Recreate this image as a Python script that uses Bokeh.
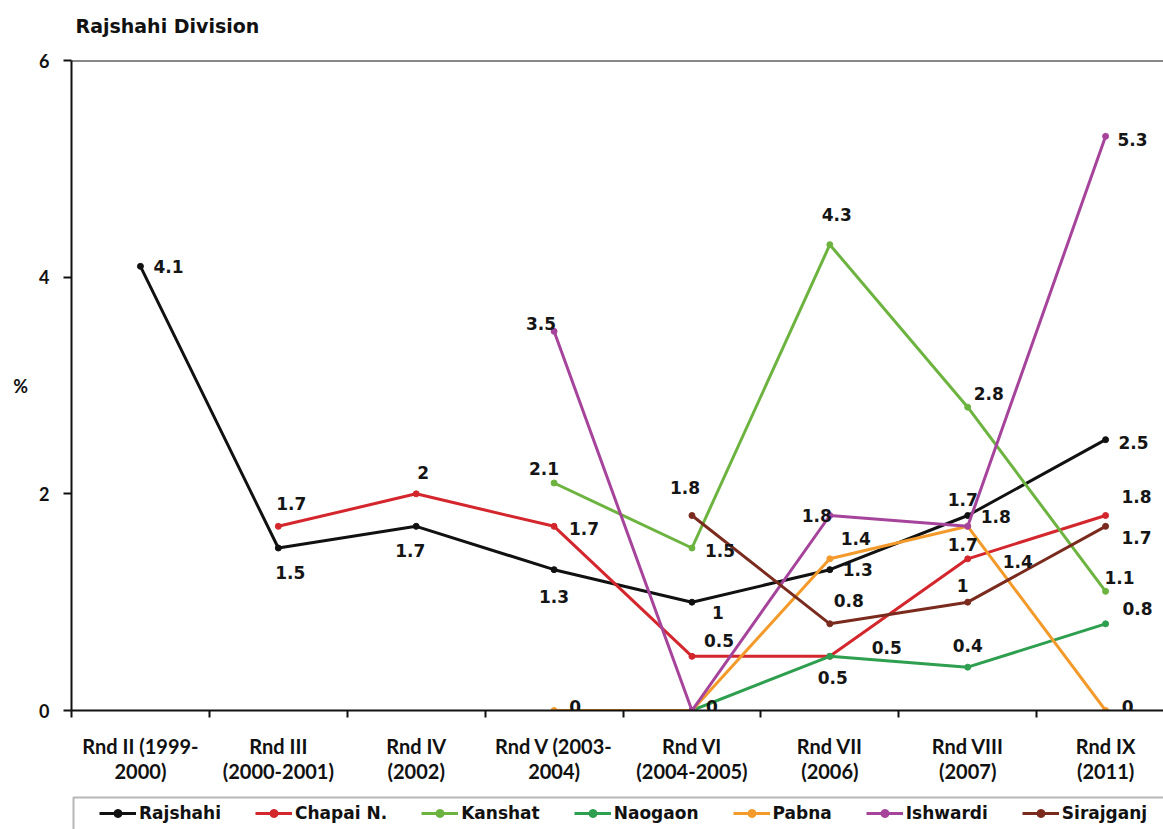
import math
from bokeh.plotting import figure
from bokeh.layouts import column
from bokeh.models import (Range1d, FixedTicker, Span, Legend, LegendItem,
                          ColumnDataSource, Label, BoxAnnotation)
from bokeh.core.properties import value
from bokeh.embed import file_html
from bokeh.resources import INLINE

NaN = float("nan")

# ---------------- data ----------------
rounds = ["Rnd II (1999-\n2000)", "Rnd III\n(2000-2001)", "Rnd IV\n(2002)",
          "Rnd V (2003-\n2004)", "Rnd VI\n(2004-2005)", "Rnd VII\n(2006)",
          "Rnd VIII\n(2007)", "Rnd IX\n(2011)"]

rajshahi  = [4.1, 1.5, 1.7, 1.3, 1.0, 1.3, 1.8, 2.5]
chapai    = [NaN, 1.7, 2.0, 1.7, 0.5, 0.5, 1.4, 1.8]
kanshat   = [NaN, NaN, NaN, 2.1, 1.5, 4.3, 2.8, 1.1]
naogaon   = [NaN, NaN, NaN, NaN, 0.0, 0.5, 0.4, 0.8]
pabna     = [NaN, NaN, NaN, 0.0, 0.0, 1.4, 1.7, 0.0]
ishwardi  = [NaN, NaN, NaN, 3.5, 0.0, 1.8, 1.7, 5.3]
sirajganj = [NaN, NaN, NaN, NaN, 1.8, 0.8, 1.0, 1.7]

series_names = ["Rajshahi", "Chapai N.", "Kanshat", "Naogaon", "Pabna", "Ishwardi", "Sirajganj"]
series_values = [rajshahi, chapai, kanshat, naogaon, pabna, ishwardi, sirajganj]
y_ticks = [0, 2, 4, 6]
title_text = "Rajshahi Division"

# ---------------- styles ----------------
colors = ["#111111", "#d4262d", "#6db33f", "#2e9e4f", "#f39a2a", "#a6449c", "#7a2b1e"]

# data-label pixel offsets (dx, dy; dy positive = down) per series / round index
label_offsets = {
    0: {0: (28, 0), 1: (12, 24), 2: (-6, 24), 3: (0, 27), 4: (26, 10), 5: (28, 0), 6: (28, 1), 7: (28, 3)},
    1: {1: (13, -23), 2: (7, -21), 3: (30, 2), 4: (27, -16), 5: (57, -9), 6: (50, 3), 7: (31, -19)},
    2: {3: (-10, -15), 4: (28, 2), 5: (7, -30), 6: (21, -14), 7: (14, -14)},
    3: {4: (20, -4), 5: (3, 21), 6: (0, -22), 7: (32, -15)},
    4: {3: (21, -4), 5: (26, -20), 6: (-5, 18), 7: (22, -4)},
    5: {3: (-13, -8), 5: (-13, 0), 6: (-5, -27), 7: (27, 3)},
    6: {4: (-7, -28), 5: (19, -23), 6: (-5, -17), 7: (31, 11)},
}

def fmt(v):
    return str(int(v)) if float(v).is_integer() else f"{v:g}"

def strip(height):
    f = figure(width=1163, height=height, x_range=Range1d(0, 1092), y_range=Range1d(0, height),
               output_backend="svg", toolbar_location=None,
               min_border_left=0, min_border_right=0, min_border_top=0, min_border_bottom=0)
    f.axis.visible = False
    f.grid.visible = False
    f.outline_line_color = None
    f.background_fill_color = "white"
    f.border_fill_color = "white"
    return f

n = len(rounds)
xs = [i + 0.5 for i in range(n)]

# ---------------- title strip ----------------
tf = strip(45)
tf.add_layout(Label(x=4, y=20, text=title_text, text_font="DejaVu Sans",
                    text_font_size="19px", text_font_style="bold", text_color="#111111",
                    text_align="left", text_baseline="middle"))

# ---------------- main chart ----------------
p = figure(width=1163, height=748,
           x_range=Range1d(0, 7.92), y_range=Range1d(0, 6),
           output_backend="svg", toolbar_location=None,
           min_border_left=71, min_border_right=0,
           min_border_top=15, min_border_bottom=83)
p.grid.visible = False
p.outline_line_color = None
p.background_fill_color = "white"
p.border_fill_color = "white"

# top frame line
p.add_layout(Span(location=6, dimension="width", line_color="#111111", line_width=2))

# x axis
xa = p.xaxis[0]
xa.ticker = FixedTicker(ticks=xs, minor_ticks=list(range(n + 1)))
xa.major_label_overrides = {x: lab for x, lab in zip(xs, rounds)}
xa.major_tick_out = 0
xa.major_tick_in = 0
xa.minor_tick_out = 7
xa.minor_tick_in = 0
xa.minor_tick_line_color = "#111111"
xa.minor_tick_line_width = 2
xa.axis_line_color = "#111111"
xa.axis_line_width = 2
xa.major_label_standoff = 16
xa.major_label_text_font = "Lato"
xa.major_label_text_font_size = "20px"
xa.major_label_text_font_style = "bold"
xa.major_label_text_color = "#111111"
xa.major_label_text_line_height = 1.05

# y axis
ya = p.yaxis[0]
ya.ticker = FixedTicker(ticks=y_ticks, minor_ticks=[])
ya.major_tick_out = 8
ya.major_tick_in = 0
ya.major_tick_line_color = "#111111"
ya.major_tick_line_width = 2
ya.axis_line_color = "#111111"
ya.axis_line_width = 2
ya.major_label_standoff = 14
ya.major_label_text_font = "Lato"
ya.major_label_text_font_size = "18px"
ya.major_label_text_font_style = "bold"
ya.major_label_text_color = "#111111"
ya.axis_label = "%"
ya.axis_label_orientation = "horizontal"
ya.axis_label_standoff = 8
ya.axis_label_text_font = "Lato"
ya.axis_label_text_font_size = "18px"
ya.axis_label_text_font_style = "bold"
ya.axis_label_text_color = "#111111"

# ---------------- legend strip ----------------
lf = strip(36)
lf.add_layout(BoxAnnotation(left=2, right=1300, bottom=-20, top=32,
                            fill_alpha=0, line_color="#111111", line_width=2))

items = []
lx, ly, lt, ldx, ldy = [], [], [], [], []
for si, (name, vals, col) in enumerate(zip(series_names, series_values, colors)):
    src = ColumnDataSource(dict(x=xs, y=vals))
    p.line("x", "y", source=src, line_color=col, line_width=3)
    p.scatter("x", "y", source=src, marker="circle", size=6,
              fill_color=col, line_color=col)
    key = ColumnDataSource(dict(x=[-500.0], y=[-500.0]))
    k_line = lf.line("x", "y", source=key, line_color=col, line_width=3)
    k_pts = lf.scatter("x", "y", source=key, marker="circle", size=6,
                       fill_color=col, line_color=col)
    items.append(LegendItem(label=name, renderers=[k_line, k_pts]))
    for i, v in enumerate(vals):
        if i in label_offsets[si] and not math.isnan(v):
            lx.append(xs[i]); ly.append(v); lt.append(fmt(v))
            dx, dy = label_offsets[si][i]
            ldx.append(dx); ldy.append(dy)

lab_src = ColumnDataSource(dict(x=lx, y=ly, t=lt, dx=ldx, dy=ldy))
p.text("x", "y", text="t", x_offset="dx", y_offset="dy", source=lab_src,
       text_font=value("DejaVu Sans"), text_font_size="17px", text_font_style="bold",
       text_color="#151515", text_align="center", text_baseline="middle")

legend = Legend(items=items, orientation="horizontal", location=(28, 6),
                border_line_color=None,
                padding=6, spacing=34, glyph_width=37, glyph_height=20,
                label_standoff=3, margin=0,
                label_text_font="DejaVu Sans", label_text_font_size="17px",
                label_text_font_style="bold", label_text_color="#111111",
                background_fill_alpha=0)
lf.add_layout(legend)

open("out.html", "w").write(file_html(column(tf, p, lf, spacing=0), INLINE))
